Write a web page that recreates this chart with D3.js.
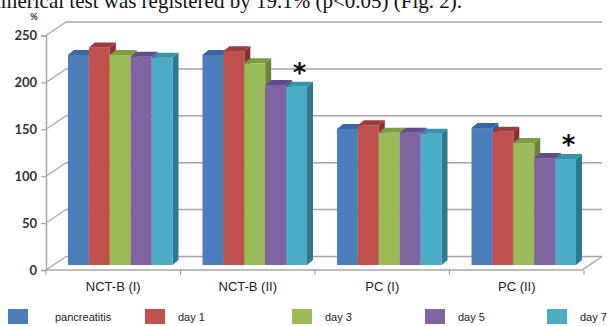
<!DOCTYPE html>
<html>
<head>
<meta charset="utf-8">
<script src="https://cdn.jsdelivr.net/npm/d3@7"></script>
<style>
  body { margin: 0; background: #fff; }
  svg { display: block; }
</style>
</head>
<body>
<div id="chart"></div>
<script>
// data
const categories = ["NCT-B (I)", "NCT-B (II)", "PC (I)", "PC (II)"];
const seriesNames = ["pancreatitis", "day 1", "day 3", "day 5", "day 7"];
const pancreatitis = [224, 224, 145, 146];
const day1 = [232, 228, 149, 142];
const day3 = [224, 215, 141, 130];
const day5 = [222, 192, 141, 114];
const day7 = [221, 190, 140, 113];
const yTicks = [0, 50, 100, 150, 200, 250];
const starred = ["NCT-B (II)", "PC (II)"];   // asterisk above last bar

const seriesValues = [pancreatitis, day1, day3, day5, day7];
const colors = ["#4a7ebb", "#c0504d", "#9bbb59", "#8064a2", "#4bacc6"];
const topColors = ["#3a67a3", "#a03c3a", "#7d9c44", "#634c88", "#3793ad"];
const sideColors = ["#2f5890", "#8a3230", "#6a853a", "#523e72", "#2a7a91"];

const width = 613, height = 326;

const svg = d3.select("#chart").append("svg")
    .attr("width", width)
    .attr("height", height);

// cropped caption line from the page above the figure
svg.append("text")
    .attr("x", 462)
    .attr("y", 8)
    .attr("text-anchor", "end")
    .style("font-family", "'Liberation Serif', 'DejaVu Serif', serif")
    .style("font-size", "21px")
    .attr("fill", "#111")
    .text("numerical test was registered by 19.1% (p<0.05) (Fig. 2).");

// 3d geometry
const depth = {dx: 20, dy: -13.5};     // wall depth
const mid = {dx: 7, dy: -5};           // bars sit at mid depth
const barDepth = {dx: 6, dy: -5};      // bar thickness

const x = d3.scaleBand()
    .domain(categories)
    .range([46, 584])
    .paddingInner(0.223)
    .paddingOuter(0.1115);

const xInner = d3.scaleBand()
    .domain(seriesNames)
    .range([0, x.bandwidth()]);

const y = d3.scaleLinear()
    .domain([0, 250])
    .range([270, 35.5]);

const gridColor = "#a6a6a6";

// back wall gridlines + diagonals on the side wall
const grid = svg.append("g");
yTicks.forEach(t => {
    grid.append("line")
        .attr("x1", 46 + depth.dx).attr("x2", 602)
        .attr("y1", y(t) + depth.dy).attr("y2", y(t) + depth.dy)
        .attr("stroke", gridColor).attr("stroke-width", 1.5);
    grid.append("line")
        .attr("x1", 46).attr("x2", 46 + depth.dx)
        .attr("y1", y(t)).attr("y2", y(t) + depth.dy)
        .attr("stroke", gridColor).attr("stroke-width", 1.2);
});

// floor outline
grid.append("path")
    .attr("d", `M46,${y(0)} L582,${y(0)} L${582 + depth.dx},${y(0) + depth.dy}`)
    .attr("fill", "none")
    .attr("stroke", gridColor)
    .attr("stroke-width", 1.5);

// front value axis
const yAxis = svg.append("g")
    .attr("transform", "translate(46,0)")
    .call(d3.axisLeft(y).tickValues(yTicks).tickSize(5).tickPadding(4));
yAxis.select(".domain").attr("stroke", gridColor).attr("stroke-width", 1.5);
yAxis.selectAll(".tick line").attr("stroke", gridColor).attr("stroke-width", 1.2);
yAxis.selectAll(".tick text")
    .style("font-family", "Lato, 'Open Sans', sans-serif")
    .style("font-weight", "bold")
    .style("font-size", "13px")
    .attr("fill", "#333");

svg.append("text")
    .attr("x", 34)
    .attr("y", 20)
    .attr("text-anchor", "middle")
    .style("font-family", "Lato, sans-serif")
    .style("font-weight", "bold")
    .style("font-size", "9px")
    .attr("fill", "#333")
    .text("%");

// category axis
const xAxis = svg.append("g")
    .attr("transform", `translate(0,${y(0)})`);
xAxis.selectAll("line")
    .data(d3.range(categories.length + 1))
    .join("line")
    .attr("x1", i => 46 + i * x.step())
    .attr("x2", i => 46 + i * x.step())
    .attr("y1", 0).attr("y2", 5)
    .attr("stroke", gridColor).attr("stroke-width", 1.2);
xAxis.selectAll("text")
    .data(categories)
    .join("text")
    .attr("x", d => x(d) + x.bandwidth() / 2)
    .attr("y", 21)
    .attr("text-anchor", "middle")
    .style("font-family", "'Liberation Sans', Arial, sans-serif")
    .style("font-size", "13px")
    .attr("fill", "#222")
    .text(d => d);

// bars
const bars = [];
categories.forEach((c, ci) => {
    seriesNames.forEach((s, si) => {
        bars.push({cat: c, series: s, si: si, value: seriesValues[si][ci]});
    });
});

const w = xInner.bandwidth();
const barG = svg.selectAll(".bar")
    .data(bars)
    .join("g")
    .attr("class", "bar");

// side face
barG.append("path")
    .attr("d", d => {
        const x0 = x(d.cat) + xInner(d.series) + mid.dx + w;
        const yt = y(d.value) + mid.dy, yb = y(0) + mid.dy;
        return `M${x0},${yt} L${x0 + barDepth.dx},${yt + barDepth.dy} L${x0 + barDepth.dx},${yb + barDepth.dy} L${x0},${yb} Z`;
    })
    .attr("fill", d => sideColors[d.si]);

// front face
barG.append("rect")
    .attr("x", d => x(d.cat) + xInner(d.series) + mid.dx)
    .attr("y", d => y(d.value) + mid.dy)
    .attr("width", w)
    .attr("height", d => y(0) - y(d.value))
    .attr("fill", d => colors[d.si]);

// top face
barG.append("path")
    .attr("d", d => {
        const x0 = x(d.cat) + xInner(d.series) + mid.dx;
        const yt = y(d.value) + mid.dy;
        return `M${x0},${yt} L${x0 + barDepth.dx},${yt + barDepth.dy} L${x0 + w + barDepth.dx},${yt + barDepth.dy} L${x0 + w},${yt} Z`;
    })
    .attr("fill", d => topColors[d.si]);

// significance marks
svg.selectAll(".star")
    .data(bars.filter(d => starred.includes(d.cat) && d.si === seriesNames.length - 1))
    .join("text")
    .attr("class", "star")
    .attr("x", d => x(d.cat) + xInner(d.series) + mid.dx + w / 2 + 3)
    .attr("y", d => y(d.value) + mid.dy - 5)
    .attr("text-anchor", "middle")
    .style("font-family", "'DejaVu Sans', sans-serif")
    .style("font-weight", "bold")
    .style("font-size", "26px")
    .attr("fill", "#111")
    .text("*");

// legend
const legendX = [8, 145, 292, 425, 547];
const legend = svg.selectAll(".legend")
    .data(seriesNames)
    .join("g")
    .attr("class", "legend")
    .attr("transform", (d, i) => `translate(${legendX[i]},309)`);
legend.append("rect")
    .attr("width", 20)
    .attr("height", 15)
    .attr("fill", (d, i) => colors[i]);
legend.append("text")
    .attr("x", (d, i) => i === 0 ? 47 : 33)
    .attr("y", 11.5)
    .style("font-family", "'Liberation Sans', Arial, sans-serif")
    .style("font-size", "11px")
    .attr("fill", "#222")
    .text(d => d);
</script>
</body>
</html>
